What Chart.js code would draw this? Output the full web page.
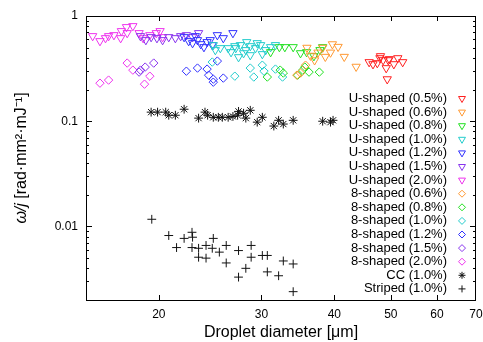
<!DOCTYPE html>
<html><head><meta charset="utf-8">
<script src="https://cdn.jsdelivr.net/npm/chart.js@4"></script>
<style>html,body{margin:0;padding:0;background:#fff}#wrap{width:483px;height:342px}</style>
</head><body><div id="wrap"><canvas id="c" width="483" height="342"></canvas></div>
<script>
const seriesLabels = ['U-shaped (0.5%)','U-shaped (0.6%)','U-shaped (0.8%)','U-shaped (1.0%)','U-shaped (1.2%)','U-shaped (1.5%)','U-shaped (2.0%)',
  '8-shaped (0.6%)','8-shaped (0.8%)','8-shaped (1.0%)','8-shaped (1.2%)','8-shaped (1.5%)','8-shaped (2.0%)','CC (1.0%)','Striped (1.0%)'];
const xTicks = [20,30,40,50,60,70];
const yTicks = [0.01,0.1,1];

const uShaped05 = [[45.9,0.365],[46.6,0.349],[47.4,0.357],[47.9,0.398],[48.0,0.416],[48.5,0.381],[49.5,0.381],[49.7,0.390],[50.6,0.349],[49.1,0.320],[51.4,0.398],[52.4,0.365],[49.3,0.251]];
const uShaped06 = [[35.9,0.50],[37.0,0.38],[37.5,0.45],[38.2,0.50],[38.6,0.41],[39.4,0.45],[39.7,0.54],[40.6,0.51],[41.6,0.41],[43.6,0.33],[36.4,0.42]];
const uShaped08 = [[31.1,0.454],[32.2,0.507],[32.9,0.507],[34.0,0.507],[35.0,0.444],[35.85,0.454],[36.9,0.416],[37.8,0.475],[38.2,0.507]];
const uShaped10 = [[24.8,0.530],[25.0,0.475],[25.5,0.496],[26.3,0.496],[26.6,0.454],[27.0,0.518],[27.1,0.496],[27.4,0.407],[27.6,0.530],[27.95,0.444],[28.2,0.475],[28.7,0.518],[28.7,0.425],[29.3,0.496],[29.9,0.530],[30.1,0.435],[30.5,0.475],[31.1,0.507],[31.7,0.530],[29.5,0.553],[28.3,0.566]];
const uShaped12 = [[22.1,0.631],[22.5,0.578],[22.85,0.553],[23.1,0.645],[23.3,0.591],[23.6,0.541],[23.9,0.507],[24.2,0.566],[24.5,0.591],[24.7,0.530],[25.2,0.659],[25.8,0.617],[26.8,0.689]];
const uShaped15 = [[19.0,0.591],[19.4,0.631],[19.85,0.617],[20.3,0.591],[20.8,0.631],[21.35,0.617],[21.8,0.645],[22.3,0.659],[22.85,0.631],[23.4,0.689],[18.6,0.645]];
const uShaped20 = [[15.4,0.645],[15.85,0.578],[16.2,0.617],[16.4,0.645],[16.75,0.659],[17.2,0.617],[17.25,0.72],[17.6,0.786],[18.05,0.803],[17.65,0.689],[18.5,0.689],[18.8,0.617],[19.3,0.659],[19.8,0.689],[20.1,0.72],[20.3,0.631]];
const eight06 = [[34.5,0.274],[35.0,0.287],[35.7,0.341]];
const eight08 = [[30.7,0.263],[32.3,0.306],[32.7,0.287],[34.6,0.274],[35.3,0.306],[35.6,0.327],[36.2,0.293],[37.7,0.293]];
const eight10 = [[24.7,0.365],[27.0,0.268],[28.7,0.320],[29.1,0.263],[30.1,0.341],[30.3,0.299],[31.7,0.313],[32.6,0.263]];
const eight12 = [[22.3,0.299],[23.3,0.320],[24.2,0.313],[24.35,0.274],[24.8,0.251],[24.8,0.235],[25.2,0.373],[25.8,0.257]];
const eight15 = [[18.5,0.293],[18.6,0.306],[18.95,0.327],[19.6,0.357]];
const eight20 = [[15.85,0.230],[16.4,0.246],[17.65,0.357],[18.05,0.306],[18.9,0.225],[19.3,0.268]];
const cc10 = [[19.4,0.122],[19.9,0.122],[20.55,0.122],[20.8,0.114],[21.35,0.114],[22.1,0.130],[23.4,0.107],[24.0,0.122],[24.25,0.114],[24.8,0.109],[25.3,0.109],[25.7,0.109],[26.3,0.109],[26.8,0.111],[27.3,0.114],[27.4,0.124],[27.95,0.119],[28.7,0.127],[28.2,0.107],[29.5,0.098],[30.1,0.109],[31.5,0.090],[32.1,0.102],[32.7,0.094],[34.0,0.102],[38.2,0.100],[39.4,0.098],[39.8,0.102]];
const striped10 = [[19.45,0.0117],[20.8,0.0082],[21.45,0.0063],[22.1,0.0077],[22.8,0.0088],[22.85,0.0079],[22.8,0.0063],[23.4,0.0062],[23.4,0.0051],[24.1,0.0066],[24.1,0.0050],[24.8,0.0077],[24.7,0.0062],[25.4,0.0057],[26.1,0.0066],[26.1,0.0045],[27.4,0.0059],[27.4,0.0033],[28.2,0.0040],[28.8,0.0066],[28.8,0.0051],[30.1,0.0053],[30.7,0.0053],[30.7,0.0037],[32.1,0.0034],[32.7,0.0047],[34.0,0.0044],[34.0,0.0024]];

const seriesData = [uShaped05,uShaped06,uShaped08,uShaped10,uShaped12,uShaped15,uShaped20,eight06,eight08,eight10,eight12,eight15,eight20,cc10,striped10];
const colors = ['#ff2020','#ff9933','#22e022','#22cccc','#3030ff','#8833ee','#ee33ee','#ff9933','#22e022','#22cccc','#3030ff','#8833ee','#ee33ee','#111111','#111111'];
const styles = ['triangle','triangle','triangle','triangle','triangle','triangle','triangle','rectRot','rectRot','rectRot','rectRot','rectRot','rectRot','star','cross'];

const datasets = seriesData.map((d,i)=>({
  label: seriesLabels[i],
  data: d.map(p=>({x:p[0],y:p[1]})),
  showLine:false,
  pointStyle: styles[i],
  pointRotation: styles[i]==='triangle'?180:0,
  pointRadius: styles[i]==='triangle'?4.8:(styles[i]==='rectRot'?4.2:4.4),
  pointBorderWidth: 1,
  borderColor: colors[i],
  backgroundColor: 'rgba(0,0,0,0)',
  pointBackgroundColor: 'rgba(0,0,0,0)',
  pointBorderColor: colors[i]
}));

function drawMarker(ctx, style, x, y, r, color){
  ctx.save(); ctx.strokeStyle=color; ctx.lineWidth=1; ctx.beginPath();
  if(style==='triangle'){ ctx.moveTo(x-r*0.866,y-r*0.5); ctx.lineTo(x+r*0.866,y-r*0.5); ctx.lineTo(x,y+r); ctx.closePath(); }
  else if(style==='rectRot'){ ctx.moveTo(x,y-r); ctx.lineTo(x+r,y); ctx.lineTo(x,y+r); ctx.lineTo(x-r,y); ctx.closePath(); }
  else if(style==='star'){ ctx.moveTo(x,y-r);ctx.lineTo(x,y+r);ctx.moveTo(x-r,y);ctx.lineTo(x+r,y);const q=r*0.707;ctx.moveTo(x-q,y-q);ctx.lineTo(x+q,y+q);ctx.moveTo(x-q,y+q);ctx.lineTo(x+q,y-q); }
  else { ctx.moveTo(x,y-r);ctx.lineTo(x,y+r);ctx.moveTo(x-r,y);ctx.lineTo(x+r,y); }
  ctx.stroke(); ctx.restore();
}

const framePlugin = {
  id:'frame',
  afterDraw(chart){
    const ctx=chart.ctx, a=chart.chartArea, xs=chart.scales.x, ys=chart.scales.y;
    ctx.save();
    ctx.strokeStyle='#000'; ctx.lineWidth=1;
    ctx.strokeRect(Math.round(a.left)+0.5, Math.round(a.top)+0.5, Math.round(a.right-a.left)-1, Math.round(a.bottom-a.top));
    ctx.beginPath();
    xTicks.forEach(v=>{ const px=Math.round(xs.getPixelForValue(v))+0.5; if(px>a.right-2) return;
      ctx.moveTo(px,a.bottom); ctx.lineTo(px,a.bottom-5); ctx.moveTo(px,a.top); ctx.lineTo(px,a.top+5); });
    [0.001,0.01,0.1,1].forEach(d=>{ for(let m=1;m<10;m++){ const v=m*d; if(v<ys.min*0.999||v>ys.max*1.001) continue;
      const py=Math.round(ys.getPixelForValue(v))+0.5; const L=m===1?6:3;
      ctx.moveTo(a.left,py); ctx.lineTo(a.left+L,py); ctx.moveTo(a.right,py); ctx.lineTo(a.right-L,py); } });
    ctx.stroke();
    ctx.fillStyle='#000'; ctx.textBaseline='middle';
    const f1='italic 16px "Liberation Sans", Arial, sans-serif', f2='16px "Liberation Sans", Arial, sans-serif';
    const t1='\u03C9/j', t2=' [rad\u00B7mm\u00B2\u00B7mJ\u207B\u00B9]';
    ctx.font=f1; const w1=ctx.measureText(t1).width; ctx.font=f2; const w2=ctx.measureText(t2).width;
    ctx.translate(22,(a.top+a.bottom)/2); ctx.rotate(-Math.PI/2);
    ctx.textAlign='left';
    ctx.font=f1; ctx.fillText(t1,-(w1+w2)/2,0);
    ctx.font=f2; ctx.fillText(t2,-(w1+w2)/2+w1,0);
    ctx.restore();
    ctx.save();
    ctx.font='13px "Liberation Sans", Arial, sans-serif'; ctx.fillStyle='#000'; ctx.textAlign='right'; ctx.textBaseline='middle';
    seriesLabels.forEach((lab,i)=>{ const y=98.5+i*13.6; ctx.fillText(lab,447,y);
      drawMarker(ctx,styles[i],462,y,styles[i]==='triangle'?4:3.5,colors[i]); });
    ctx.restore();
  }
};

new Chart(document.getElementById('c'),{
  type:'scatter',
  data:{datasets},
  options:{
    responsive:false, animation:false, devicePixelRatio:1,
    layout:{padding:{top:16,right:7,left:0,bottom:0}},
    plugins:{legend:{display:false},tooltip:{enabled:false},title:{display:false}},
    scales:{
      x:{type:'logarithmic',min:15,max:70,position:'bottom',
        grid:{display:false,drawTicks:false},border:{display:false},
        afterBuildTicks:s=>{s.ticks=xTicks.map(v=>({value:v}));},
        afterFit:s=>{s.height=42;s.paddingRight=0;s.paddingLeft=0;},
        ticks:{autoSkip:false,maxRotation:0,padding:7,color:'#000',font:{size:12,family:'"Liberation Sans", Arial, sans-serif'},callback:v=>String(v)},
        title:{display:true,text:'Droplet diameter [\u03BCm]',color:'#000',font:{size:16,family:'"Liberation Sans", Arial, sans-serif'},padding:{top:2,bottom:0}}
      },
      y:{type:'logarithmic',min:0.002,max:1,position:'left',
        grid:{display:false,drawTicks:false},border:{display:false},
        afterBuildTicks:s=>{s.ticks=yTicks.map(v=>({value:v}));},
        afterFit:s=>{s.width=86;s.paddingTop=0;s.paddingBottom=0;},
        ticks:{autoSkip:false,padding:8,color:'#000',font:{size:12,family:'"Liberation Sans", Arial, sans-serif'},callback:v=>String(v)}
      }
    }
  },
  plugins:[framePlugin]
});
</script></body></html>
